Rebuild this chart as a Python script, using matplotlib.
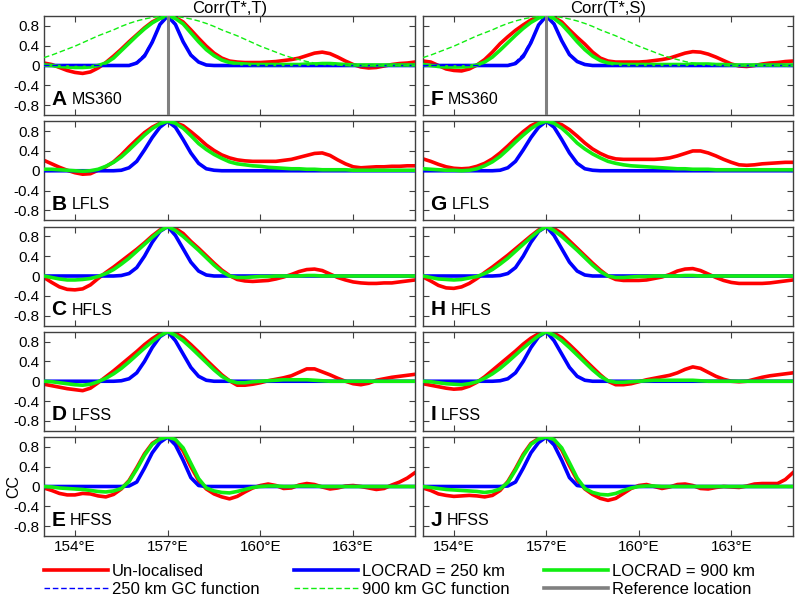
import matplotlib
matplotlib.use("Agg")
import matplotlib.pyplot as plt
from matplotlib.lines import Line2D

plt.rcParams['font.family'] = ['Liberation Sans', 'DejaVu Sans']
plt.rcParams['axes.unicode_minus'] = False

# ---------------- data ----------------
lon = [153.0, 153.25, 153.5, 153.75, 154.0, 154.25, 154.5, 154.75,
       155.0, 155.25, 155.5, 155.75, 156.0, 156.25, 156.5, 156.75,
       157.0, 157.25, 157.5, 157.75, 158.0, 158.25, 158.5, 158.75,
       159.0, 159.25, 159.5, 159.75, 160.0, 160.25, 160.5, 160.75,
       161.0, 161.25, 161.5, 161.75, 162.0, 162.25, 162.5, 162.75,
       163.0, 163.25, 163.5, 163.75, 164.0, 164.25, 164.5, 164.75,
       165.0]

ref_lon = 157.0
xtick_vals = [154, 157, 160, 163]
xtick_labels = ['154°E', '157°E', '160°E', '163°E']
ytick_vals = [-0.8, -0.4, 0, 0.4, 0.8]
ytick_labels = ['-0.8', '-0.4', '0', '0.4', '0.8']
col_titles = ['Corr(T*,T)', 'Corr(T*,S)']
legend_labels = ['Un-localised', 'LOCRAD = 250 km', 'LOCRAD = 900 km',
                 '250 km GC function', '900 km GC function', 'Reference location']

# GC localisation functions (shown in A and F)
gc250 = [0, 0, 0, 0, 0, 0, 0, 0,
         0, 0, 0, 0.01, 0.07, 0.23, 0.50, 0.82,
         1.00, 0.82, 0.50, 0.23, 0.07, 0.01, 0, 0,
         0, 0, 0, 0, 0, 0, 0, 0,
         0, 0, 0, 0, 0, 0, 0, 0,
         0, 0, 0, 0, 0, 0, 0, 0,
         0]
gc900 = [0.16, 0.21, 0.27, 0.33, 0.39, 0.46, 0.53, 0.60,
         0.66, 0.72, 0.79, 0.85, 0.90, 0.94, 0.97, 0.99,
         1.00, 0.99, 0.97, 0.94, 0.90, 0.85, 0.79, 0.72,
         0.66, 0.60, 0.53, 0.46, 0.39, 0.33, 0.27, 0.21,
         0.16, 0.12, 0.08, 0.05, 0.03, 0.02, 0.01, 0.00,
         0, 0, 0, 0, 0, 0, 0, 0,
         0]

# Panel A (MS360, T)
red_A = [0.05, 0.02, -0.04, -0.10, -0.14, -0.16, -0.13, -0.05,
         0.06, 0.19, 0.33, 0.48, 0.62, 0.76, 0.88, 0.96,
         1.00, 0.97, 0.88, 0.72, 0.55, 0.39, 0.25, 0.15,
         0.09, 0.07, 0.06, 0.06, 0.06, 0.07, 0.08, 0.10,
         0.12, 0.15, 0.20, 0.25, 0.27, 0.24, 0.17, 0.09,
         0.02, -0.03, -0.05, -0.04, -0.01, 0.02, 0.04, 0.05,
         0.07]
blue_A = [0, 0, 0, 0, 0, 0, 0, 0,
          0, 0, 0, 0, 0.05, 0.19, 0.47, 0.83,
          1.00, 0.83, 0.48, 0.21, 0.07, 0.01, 0, 0,
          0, 0, 0, 0, 0, 0, 0, 0,
          0, 0, 0, 0, 0, 0, 0, 0,
          0, 0, 0, 0, 0, 0, 0, 0,
          0]
green_A = [0.01, 0.00, -0.02, -0.03, -0.04, -0.04, -0.03, 0.00,
           0.05, 0.15, 0.30, 0.45, 0.60, 0.74, 0.86, 0.95,
           1.00, 0.95, 0.84, 0.66, 0.48, 0.32, 0.20, 0.11,
           0.06, 0.04, 0.03, 0.02, 0.02, 0.02, 0.02, 0.02,
           0.02, 0.02, 0.03, 0.03, 0.04, 0.04, 0.03, 0.02,
           0.01, 0.01, 0.01, 0.01, 0.01, 0.01, 0.01, 0.01,
           0.01]

# Panel F (MS360, S)
red_F = [0.09, 0.07, 0.00, -0.07, -0.10, -0.11, -0.07, 0.01,
         0.12, 0.27, 0.44, 0.58, 0.71, 0.82, 0.92, 0.98,
         1.00, 0.97, 0.88, 0.72, 0.57, 0.43, 0.27, 0.15,
         0.09, 0.07, 0.07, 0.07, 0.07, 0.08, 0.10, 0.12,
         0.15, 0.20, 0.25, 0.28, 0.27, 0.23, 0.17, 0.10,
         0.03, -0.01, -0.02, 0.00, 0.03, 0.05, 0.06, 0.08,
         0.09]
blue_F = [0, 0, 0, 0, 0, 0, 0, 0,
          0, 0, 0, 0, 0.04, 0.18, 0.46, 0.82,
          1.00, 0.84, 0.50, 0.22, 0.08, 0.02, 0, 0,
          0, 0, 0, 0, 0, 0, 0, 0,
          0, 0, 0, 0, 0, 0, 0, 0,
          0, 0, 0, 0, 0, 0, 0, 0,
          0]
green_F = [0.02, 0.00, -0.02, -0.03, -0.03, -0.03, -0.02, 0.01,
           0.07, 0.17, 0.31, 0.46, 0.61, 0.75, 0.87, 0.96,
           1.00, 0.95, 0.83, 0.66, 0.48, 0.32, 0.19, 0.10,
           0.05, 0.03, 0.02, 0.02, 0.02, 0.02, 0.02, 0.02,
           0.02, 0.02, 0.02, 0.03, 0.03, 0.03, 0.02, 0.02,
           0.01, 0.01, 0.01, 0.01, 0.01, 0.01, 0.01, 0.01,
           0.01]

# Panel B (LFLS, T)
red_B = [0.21, 0.14, 0.07, 0.01, -0.04, -0.07, -0.06, 0.01,
         0.08, 0.18, 0.32, 0.48, 0.63, 0.77, 0.88, 0.96,
         1.00, 0.97, 0.91, 0.79, 0.66, 0.52, 0.41, 0.32,
         0.26, 0.22, 0.20, 0.19, 0.19, 0.19, 0.19, 0.21,
         0.23, 0.27, 0.31, 0.35, 0.36, 0.31, 0.22, 0.14,
         0.08, 0.06, 0.07, 0.08, 0.08, 0.09, 0.09, 0.10,
         0.10]
blue_B = [0, 0, 0, 0, 0, 0, 0, 0,
          0, 0, 0.01, 0.06, 0.19, 0.42, 0.67, 0.88,
          1.00, 0.88, 0.63, 0.36, 0.15, 0.04, 0.01, 0,
          0, 0, 0, 0, 0, 0, 0, 0,
          0, 0, 0, 0, 0, 0, 0, 0,
          0, 0, 0, 0, 0, 0, 0, 0,
          0]
green_B = [0.03, 0.03, 0.02, 0.01, 0.00, -0.01, 0.00, 0.03,
           0.09, 0.17, 0.28, 0.42, 0.57, 0.72, 0.85, 0.95,
           1.00, 0.96, 0.86, 0.71, 0.55, 0.43, 0.33, 0.25,
           0.18, 0.14, 0.12, 0.10, 0.09, 0.07, 0.06, 0.05,
           0.04, 0.04, 0.03, 0.03, 0.02, 0.02, 0.02, 0.02,
           0.01, 0.01, 0.01, 0.01, 0.01, 0.01, 0.01, 0.01,
           0.01]

# Panel G (LFLS, S)
red_G = [0.24, 0.19, 0.13, 0.08, 0.05, 0.04, 0.05, 0.09,
         0.15, 0.24, 0.36, 0.50, 0.65, 0.79, 0.91, 0.98,
         1.00, 0.98, 0.93, 0.83, 0.70, 0.56, 0.44, 0.35,
         0.28, 0.24, 0.23, 0.23, 0.23, 0.23, 0.23, 0.24,
         0.26, 0.30, 0.35, 0.40, 0.40, 0.36, 0.30, 0.23,
         0.17, 0.12, 0.11, 0.12, 0.14, 0.15, 0.16, 0.17,
         0.17]
blue_G = [0, 0, 0, 0, 0, 0, 0, 0,
          0, 0, 0.01, 0.06, 0.19, 0.42, 0.67, 0.88,
          1.00, 0.88, 0.63, 0.36, 0.15, 0.04, 0.01, 0,
          0, 0, 0, 0, 0, 0, 0, 0,
          0, 0, 0, 0, 0, 0, 0, 0,
          0, 0, 0, 0, 0, 0, 0, 0,
          0]
green_G = [0.04, 0.03, 0.02, 0.01, 0.01, 0.00, 0.01, 0.04,
           0.10, 0.18, 0.29, 0.43, 0.58, 0.72, 0.85, 0.95,
           1.00, 0.96, 0.86, 0.72, 0.56, 0.44, 0.34, 0.26,
           0.19, 0.15, 0.12, 0.10, 0.09, 0.08, 0.07, 0.06,
           0.05, 0.04, 0.04, 0.03, 0.03, 0.03, 0.02, 0.02,
           0.02, 0.02, 0.02, 0.02, 0.02, 0.02, 0.02, 0.02,
           0.02]

# Panel C (HFLS, T)
red_C = [-0.03, -0.13, -0.22, -0.27, -0.28, -0.26, -0.18, -0.05,
         0.07, 0.18, 0.30, 0.42, 0.54, 0.67, 0.81, 0.93,
         1.00, 0.96, 0.86, 0.70, 0.56, 0.41, 0.26, 0.12,
         0.01, -0.07, -0.10, -0.11, -0.10, -0.09, -0.06, -0.02,
         0.03, 0.09, 0.13, 0.14, 0.11, 0.04, -0.03, -0.08,
         -0.12, -0.14, -0.15, -0.15, -0.14, -0.14, -0.12, -0.10,
         -0.08]
blue_C = [0, 0, 0, 0, 0, 0, 0, 0,
          0, 0, 0.01, 0.05, 0.17, 0.40, 0.68, 0.90,
          1.00, 0.82, 0.55, 0.28, 0.10, 0.02, 0, 0,
          0, 0, 0, 0, 0, 0, 0, 0,
          0, 0, 0, 0, 0, 0, 0, 0,
          0, 0, 0, 0, 0, 0, 0, 0,
          0]
green_C = [0.00, -0.03, -0.06, -0.08, -0.08, -0.07, -0.05, -0.01,
           0.05, 0.13, 0.24, 0.36, 0.50, 0.64, 0.78, 0.91,
           1.00, 0.92, 0.80, 0.66, 0.52, 0.37, 0.22, 0.09,
           0.00, -0.03, -0.03, -0.02, -0.01, -0.01, 0.00, 0.00,
           0.00, 0.00, 0.01, 0.01, 0.00, 0.00, 0.00, 0.00,
           0, 0, 0, 0, 0, 0, 0, 0,
           0]

# Panel H (HFLS, S)
red_H = [-0.02, -0.10, -0.19, -0.24, -0.25, -0.22, -0.15, -0.05,
         0.07, 0.18, 0.30, 0.42, 0.55, 0.68, 0.81, 0.93,
         1.00, 0.96, 0.86, 0.71, 0.56, 0.41, 0.26, 0.12,
         0.00, -0.07, -0.09, -0.09, -0.09, -0.08, -0.05, -0.02,
         0.03, 0.10, 0.14, 0.15, 0.11, 0.04, -0.03, -0.09,
         -0.13, -0.15, -0.15, -0.15, -0.15, -0.14, -0.12, -0.10,
         -0.08]
blue_H = [0, 0, 0, 0, 0, 0, 0, 0,
          0, 0, 0.01, 0.05, 0.17, 0.40, 0.68, 0.90,
          1.00, 0.82, 0.55, 0.28, 0.10, 0.02, 0, 0,
          0, 0, 0, 0, 0, 0, 0, 0,
          0, 0, 0, 0, 0, 0, 0, 0,
          0, 0, 0, 0, 0, 0, 0, 0,
          0]
green_H = [0.00, -0.03, -0.06, -0.07, -0.08, -0.07, -0.04, -0.01,
           0.05, 0.13, 0.24, 0.36, 0.50, 0.64, 0.78, 0.91,
           1.00, 0.92, 0.80, 0.66, 0.52, 0.37, 0.22, 0.09,
           0.00, -0.03, -0.03, -0.02, -0.01, -0.01, 0.00, 0.00,
           0.00, 0.00, 0.01, 0.01, 0.00, 0.00, 0.00, 0.00,
           0, 0, 0, 0, 0, 0, 0, 0,
           0]

# Panel D (LFSS, T)
red_D = [-0.06, -0.09, -0.12, -0.15, -0.17, -0.19, -0.14, -0.03,
         0.09, 0.21, 0.34, 0.47, 0.60, 0.74, 0.86, 0.96,
         1.00, 0.97, 0.88, 0.74, 0.59, 0.43, 0.28, 0.13,
         0.01, -0.08, -0.08, -0.06, -0.03, 0.01, 0.04, 0.07,
         0.11, 0.18, 0.25, 0.25, 0.19, 0.13, 0.06, 0.00,
         -0.05, -0.07, -0.04, 0.02, 0.05, 0.08, 0.10, 0.12,
         0.14]
blue_D = [0, 0, 0, 0, 0, 0, 0, 0,
          0, 0, 0.01, 0.05, 0.17, 0.40, 0.68, 0.90,
          1.00, 0.82, 0.55, 0.28, 0.10, 0.02, 0, 0,
          0, 0, 0, 0, 0, 0, 0, 0,
          0, 0, 0, 0, 0, 0, 0, 0,
          0, 0, 0, 0, 0, 0, 0, 0,
          0]
green_D = [0.00, -0.01, -0.03, -0.05, -0.07, -0.08, -0.06, -0.01,
           0.06, 0.15, 0.26, 0.39, 0.53, 0.67, 0.80, 0.92,
           1.00, 0.93, 0.82, 0.68, 0.53, 0.38, 0.23, 0.10,
           0.01, -0.03, -0.03, -0.01, 0.00, 0.01, 0.02, 0.03,
           0.03, 0.03, 0.03, 0.02, 0.01, 0.00, 0.00, 0.00,
           0, 0, 0, 0, 0, 0, 0, 0,
           0]

# Panel I (LFSS, S)
red_I = [-0.05, -0.08, -0.11, -0.14, -0.16, -0.15, -0.10, -0.02,
         0.09, 0.22, 0.35, 0.48, 0.61, 0.75, 0.87, 0.96,
         1.00, 0.97, 0.88, 0.74, 0.59, 0.43, 0.28, 0.13,
         0.00, -0.07, -0.07, -0.05, -0.01, 0.03, 0.06, 0.09,
         0.12, 0.17, 0.24, 0.29, 0.26, 0.18, 0.10, 0.04,
         0.00, -0.01, 0.00, 0.04, 0.08, 0.11, 0.13, 0.15,
         0.17]
blue_I = [0, 0, 0, 0, 0, 0, 0, 0,
          0, 0, 0.01, 0.05, 0.17, 0.40, 0.68, 0.90,
          1.00, 0.82, 0.55, 0.28, 0.10, 0.02, 0, 0,
          0, 0, 0, 0, 0, 0, 0, 0,
          0, 0, 0, 0, 0, 0, 0, 0,
          0, 0, 0, 0, 0, 0, 0, 0,
          0]
green_I = [0.00, -0.01, -0.03, -0.05, -0.06, -0.07, -0.05, -0.01,
           0.06, 0.15, 0.26, 0.39, 0.53, 0.67, 0.80, 0.92,
           1.00, 0.93, 0.82, 0.68, 0.53, 0.38, 0.23, 0.10,
           0.01, -0.02, -0.02, -0.01, 0.00, 0.01, 0.02, 0.02,
           0.02, 0.02, 0.02, 0.02, 0.01, 0.00, 0.00, 0.00,
           0, 0, 0, 0, 0, 0, 0, 0,
           0]

# Panel E (HFSS, T)
red_E = [-0.03, -0.08, -0.14, -0.17, -0.17, -0.14, -0.15, -0.19,
         -0.21, -0.16, -0.05, 0.12, 0.38, 0.66, 0.87, 0.97,
         1.00, 0.93, 0.72, 0.40, 0.12, -0.05, -0.15, -0.21,
         -0.25, -0.20, -0.11, -0.03, 0.02, 0.05, 0.02, -0.04,
         -0.03, 0.03, 0.06, 0.04, -0.01, -0.05, -0.03, 0.01,
         0.02, 0.00, -0.03, -0.06, -0.04, 0.03, 0.09, 0.17,
         0.28]
blue_E = [0, 0, 0, 0, 0, 0, 0, 0,
          0, 0, 0, 0.01, 0.09, 0.37, 0.68, 0.89,
          1.00, 0.84, 0.53, 0.18, 0.02, 0, 0, 0,
          0, 0, 0, 0, 0, 0, 0, 0,
          0, 0, 0, 0, 0, 0, 0, 0,
          0, 0, 0, 0, 0, 0, 0, 0,
          0]
green_E = [0.00, -0.01, -0.03, -0.04, -0.05, -0.06, -0.08, -0.10,
           -0.11, -0.09, -0.04, 0.10, 0.35, 0.63, 0.85, 0.96,
           1.00, 0.95, 0.78, 0.47, 0.16, -0.03, -0.09, -0.12,
           -0.13, -0.10, -0.06, -0.02, 0.00, 0.01, 0.01, 0.00,
           0.00, 0.01, 0.01, 0.01, 0.00, 0.00, 0.00, 0.00,
           0, 0, 0, 0, 0, 0, 0, 0,
           0]

# Panel J (HFSS, S)
red_J = [-0.03, -0.08, -0.15, -0.18, -0.20, -0.19, -0.18, -0.19,
         -0.21, -0.18, -0.08, 0.10, 0.36, 0.65, 0.87, 0.97,
         1.00, 0.94, 0.74, 0.42, 0.13, -0.05, -0.16, -0.24,
         -0.28, -0.24, -0.14, -0.04, 0.02, 0.04, 0.00, -0.04,
         -0.01, 0.04, 0.05, 0.02, -0.04, -0.05, -0.02, 0.00,
         -0.01, -0.02, 0.01, 0.05, 0.06, 0.06, 0.06, 0.14,
         0.28]
blue_J = [0, 0, 0, 0, 0, 0, 0, 0,
          0, 0, 0, 0.01, 0.09, 0.37, 0.68, 0.89,
          1.00, 0.84, 0.53, 0.18, 0.02, 0, 0, 0,
          0, 0, 0, 0, 0, 0, 0, 0,
          0, 0, 0, 0, 0, 0, 0, 0,
          0, 0, 0, 0, 0, 0, 0, 0,
          0]
green_J = [0.00, -0.02, -0.04, -0.06, -0.07, -0.08, -0.09, -0.10,
           -0.12, -0.10, -0.05, 0.08, 0.33, 0.62, 0.85, 0.96,
           1.00, 0.95, 0.78, 0.48, 0.17, -0.04, -0.12, -0.16,
           -0.17, -0.14, -0.08, -0.03, 0.00, 0.01, 0.01, 0.00,
           0, 0, 0, 0, 0, 0, 0, 0,
           0, 0, 0, 0, 0, 0, 0, 0,
           0]

panel_letters = ['A', 'B', 'C', 'D', 'E', 'F', 'G', 'H', 'I', 'J']
panel_names = ['MS360', 'LFLS', 'HFLS', 'LFSS', 'HFSS',
               'MS360', 'LFLS', 'HFLS', 'LFSS', 'HFSS']
red_series = [red_A, red_B, red_C, red_D, red_E, red_F, red_G, red_H, red_I, red_J]
blue_series = [blue_A, blue_B, blue_C, blue_D, blue_E, blue_F, blue_G, blue_H, blue_I, blue_J]
green_series = [green_A, green_B, green_C, green_D, green_E,
                green_F, green_G, green_H, green_I, green_J]

# ---------------- style ----------------
RED = '#ff0000'
BLUE = '#0000ff'
GREEN = '#11ee11'
GRAY = '#808080'
FRAME = '#404040'
LW = 2.6

W, H = 796, 598
fig = plt.figure(figsize=(W / 100, H / 100), dpi=100)
col_x = [(44, 415), (423, 793)]
row_top = [16, 121.25, 226.5, 331.75, 437]
ph = 99

for k in range(10):
    col, row = divmod(k, 5)
    x0, x1 = col_x[col]
    top = row_top[row]
    ax = fig.add_axes([x0 / W, 1 - (top + ph) / H, (x1 - x0) / W, ph / H])
    ax.plot(lon, red_series[k], color=RED, lw=LW, solid_joinstyle='round', zorder=2)
    ax.plot(lon, blue_series[k], color=BLUE, lw=LW, solid_joinstyle='round', zorder=3)
    ax.plot(lon, green_series[k], color=GREEN, lw=LW, solid_joinstyle='round', zorder=4)
    if row == 0:
        ax.plot(lon, gc250, color=BLUE, lw=1.0, dashes=(4, 2), zorder=5)
        ax.plot(lon, gc900, color=GREEN, lw=1.0, dashes=(4, 2), zorder=5)
        ax.axvline(ref_lon, color=GRAY, lw=2.2, zorder=6)
        ax.set_title(col_titles[col], fontsize=12, pad=2)
    ax.set_xlim(153, 165)
    ax.set_ylim(-1, 1)
    ax.set_xticks(xtick_vals)
    ax.set_yticks(ytick_vals)
    if row == 4:
        ax.set_xticklabels(xtick_labels)
    else:
        ax.set_xticklabels([])
    if col == 0:
        ax.set_yticklabels(ytick_labels)
    else:
        ax.set_yticklabels([])
    ax.tick_params(direction='in', top=True, right=True, length=4, width=0.8,
                   color=FRAME, labelsize=11, pad=3)
    for s in ax.spines.values():
        s.set_color(FRAME)
        s.set_linewidth(1.0)
    t = ax.text(0.02, 0.065, panel_letters[k], transform=ax.transAxes,
                fontsize=15, fontweight='bold', ha='left', va='bottom', zorder=10)
    ax.annotate(panel_names[k], xy=(1, 0), xycoords=t, xytext=(3.5, 1),
                textcoords='offset points', fontsize=11.5, ha='left', va='bottom',
                zorder=10)
    if k == 4:
        ax.set_ylabel('CC', fontsize=11.5)
        ax.yaxis.set_label_coords(-0.062, 0.5)

handles = [Line2D([], [], color=RED, lw=LW),
           Line2D([], [], color=BLUE, lw=1.0, dashes=(4, 2)),
           Line2D([], [], color=BLUE, lw=LW),
           Line2D([], [], color=GREEN, lw=1.0, dashes=(4, 2)),
           Line2D([], [], color=GREEN, lw=LW),
           Line2D([], [], color=GRAY, lw=LW)]
labels = [legend_labels[0], legend_labels[3], legend_labels[1],
          legend_labels[4], legend_labels[2], legend_labels[5]]
fig.legend(handles, labels, ncol=3, loc='upper left',
           bbox_to_anchor=(44 / W, 1 - 564 / H), frameon=False, fontsize=12,
           handlelength=3.85, handletextpad=0.2, columnspacing=2.1,
           labelspacing=0.15, borderaxespad=0, borderpad=0)

fig.savefig('out.png', dpi=100)
